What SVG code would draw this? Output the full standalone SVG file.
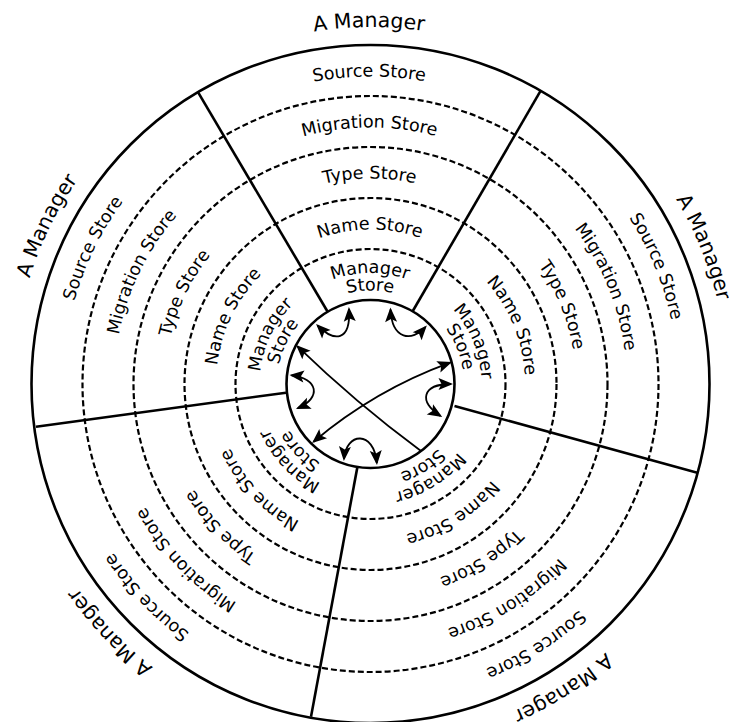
<svg xmlns="http://www.w3.org/2000/svg" width="729" height="722" viewBox="0 0 729 722">
<style>
.ring{fill:none;stroke:#000;stroke-width:2.6}
.dash{fill:none;stroke:#000;stroke-width:2.2;stroke-dasharray:6 3}
.div{stroke:#000;stroke-width:2.6}
.conn{fill:none;stroke:#000;stroke-width:1.8}
text{font-family:"DejaVu Sans","Liberation Sans",sans-serif;font-size:17.5px;fill:#000;text-anchor:middle}
text.mgr{font-size:20.5px}
</style>
<defs>
<path id="pA" d="M35.03,261.91 A357,357 0 0 1 705.97,261.91"/>
<path id="pS" d="M81.54,278.83 A307.5,307.5 0 0 1 659.46,278.83"/>
<path id="pMi" d="M129.47,296.28 A256.5,256.5 0 0 1 611.53,296.28"/>
<path id="pT" d="M177.39,313.72 A205.5,205.5 0 0 1 563.61,313.72"/>
<path id="pN" d="M225.32,331.16 A154.5,154.5 0 0 1 515.68,331.16"/>
<path id="pM1" d="M266.19,346.04 A111,111 0 0 1 474.81,346.04"/>
<path id="pM2" d="M282.64,352.02 A93.5,93.5 0 0 1 458.36,352.02"/>
<marker id="ah" viewBox="-14 -7 17 14" refX="0" refY="0" markerWidth="17" markerHeight="14" markerUnits="userSpaceOnUse" orient="auto-start-reverse">
<path d="M2,0 L-12.5,-6 L-9.5,0 L-12.5,6 Z" fill="#000"/>
</marker>
</defs>
<rect width="729" height="722" fill="#fff"/>
<g id="rings">
<circle class="ring" cx="370.5" cy="384" r="339"/>
<circle class="dash" cx="370.5" cy="384" r="288"/>
<circle class="dash" cx="370.5" cy="384" r="237"/>
<circle class="dash" cx="370.5" cy="384" r="186"/>
<circle class="dash" cx="370.5" cy="384" r="135"/>
<circle class="ring" cx="370.5" cy="384" r="84"/>
</g>
<g id="dividers">
<line class="div" x1="327.5" y1="311.5" x2="198.3" y2="92.7"/>
<line class="div" x1="412.8" y1="311" x2="540.7" y2="90.7"/>
<line class="div" x1="454.5" y1="406" x2="697.3" y2="472.7"/>
<line class="div" x1="357.3" y1="467.5" x2="311" y2="716.7"/>
<line class="div" x1="286" y1="392.7" x2="36" y2="426.7"/>
</g>
<g id="manager-top" transform="rotate(-0.25 370.5 384)">
<text class="mgr"><textPath href="#pA" startOffset="50%">A Manager</textPath></text>
<text><textPath href="#pS" startOffset="50%">Source Store</textPath></text>
<text><textPath href="#pMi" startOffset="50%">Migration Store</textPath></text>
<text><textPath href="#pT" startOffset="50%">Type Store</textPath></text>
<text><textPath href="#pN" startOffset="50%">Name Store</textPath></text>
<text><textPath href="#pM1" startOffset="50%">Manager</textPath></text>
<text><textPath href="#pM2" startOffset="50%">Store</textPath></text>
</g>
<g id="manager-right" transform="rotate(67.65 370.5 384)">
<text class="mgr"><textPath href="#pA" startOffset="50%">A Manager</textPath></text>
<text><textPath href="#pS" startOffset="50%">Source Store</textPath></text>
<text><textPath href="#pMi" startOffset="50%">Migration Store</textPath></text>
<text><textPath href="#pT" startOffset="50%">Type Store</textPath></text>
<text><textPath href="#pN" startOffset="50%">Name Store</textPath></text>
<text><textPath href="#pM1" startOffset="50%">Manager</textPath></text>
<text><textPath href="#pM2" startOffset="50%">Store</textPath></text>
</g>
<g id="manager-bottom-right" transform="rotate(147.65 370.5 384)">
<text class="mgr"><textPath href="#pA" startOffset="50%">A Manager</textPath></text>
<text><textPath href="#pS" startOffset="50%">Source Store</textPath></text>
<text><textPath href="#pMi" startOffset="50%">Migration Store</textPath></text>
<text><textPath href="#pT" startOffset="50%">Type Store</textPath></text>
<text><textPath href="#pN" startOffset="50%">Name Store</textPath></text>
<text><textPath href="#pM1" startOffset="50%">Manager</textPath></text>
<text><textPath href="#pM2" startOffset="50%">Store</textPath></text>
</g>
<g id="manager-bottom-left" transform="rotate(-133.6 370.5 384)">
<text class="mgr"><textPath href="#pA" startOffset="50%">A Manager</textPath></text>
<text><textPath href="#pS" startOffset="50%">Source Store</textPath></text>
<text><textPath href="#pMi" startOffset="50%">Migration Store</textPath></text>
<text><textPath href="#pT" startOffset="50%">Type Store</textPath></text>
<text><textPath href="#pN" startOffset="50%">Name Store</textPath></text>
<text><textPath href="#pM1" startOffset="50%">Manager</textPath></text>
<text><textPath href="#pM2" startOffset="50%">Store</textPath></text>
</g>
<g id="manager-left" transform="rotate(-63.95 370.5 384)">
<text class="mgr"><textPath href="#pA" startOffset="50%">A Manager</textPath></text>
<text><textPath href="#pS" startOffset="50%">Source Store</textPath></text>
<text><textPath href="#pMi" startOffset="50%">Migration Store</textPath></text>
<text><textPath href="#pT" startOffset="50%">Type Store</textPath></text>
<text><textPath href="#pN" startOffset="50%">Name Store</textPath></text>
<text><textPath href="#pM1" startOffset="50%">Manager</textPath></text>
<text><textPath href="#pM2" startOffset="50%">Store</textPath></text>
</g>
<g id="connectors">
<path class="conn" d="M317.5,325.5 C334,342 351,342 349,309" marker-start="url(#ah)" marker-end="url(#ah)"/>
<path class="conn" d="M390.5,309.5 C392,340 412,342 425.5,327" marker-start="url(#ah)" marker-end="url(#ah)"/>
<path class="conn" d="M451,384 C422,384 418,402 440.5,416" marker-start="url(#ah)" marker-end="url(#ah)"/>
<path class="conn" d="M344,459 C346,432 374,430 376.8,463" marker-start="url(#ah)" marker-end="url(#ah)"/>
<path class="conn" d="M291.5,375.3 C318,378 322,398 297.8,408.2" marker-start="url(#ah)" marker-end="url(#ah)"/>
<path class="conn" d="M313.6,441.7 Q375,390 450.1,362.7" marker-start="url(#ah)" marker-end="url(#ah)"/>
<path class="conn" d="M297.5,346.3 Q355,402 421,451" marker-start="url(#ah)"/>
</g>
</svg>
